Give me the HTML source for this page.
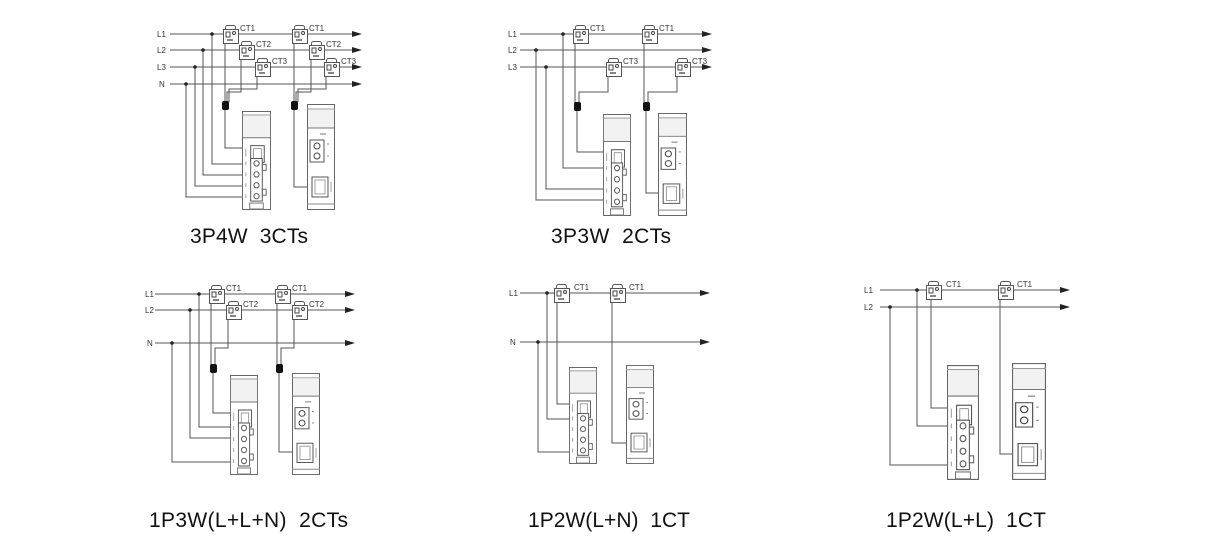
<!DOCTYPE html>
<html><head><meta charset="utf-8"><style>
html,body{margin:0;padding:0;background:#fff}
svg{display:block}
.w{fill:none;stroke:#555;stroke-width:1}
.ln{stroke:#555;stroke-width:1}
.t{font-family:"Liberation Sans",sans-serif;font-size:8px;fill:#333}
.big{font-family:"Liberation Sans",sans-serif;font-size:21px;fill:#111}
</style></head><body>
<svg width="1214" height="554" viewBox="0 0 1214 554" xmlns="http://www.w3.org/2000/svg">
<defs>
<symbol id="meter" viewBox="0 0 30 100" preserveAspectRatio="none">
<rect x="0.5" y="0.5" width="29" height="99" fill="#fff" stroke="#666"/>
<line x1="0" y1="4" x2="30" y2="4" stroke="#999"/>
<rect x="1" y="5" width="28" height="22" fill="#f2f2f2"/>
<line x1="0" y1="27" x2="30" y2="27" stroke="#777"/>
<rect x="9" y="35" width="14" height="17" fill="#fff" stroke="#555"/>
<rect x="12" y="38" width="8" height="11" fill="none" stroke="#777" stroke-width="0.7"/>
<line x1="4" y1="38" x2="4" y2="46" stroke="#888" stroke-width="0.8"/>
<rect x="9" y="48" width="12" height="43" fill="#fff" stroke="#555"/>
<rect x="21" y="54" width="4" height="6" fill="none" stroke="#666"/>
<rect x="21" y="79" width="4" height="6" fill="none" stroke="#666"/>
<circle cx="15" cy="53" r="2.7" fill="none" stroke="#555"/>
<circle cx="15" cy="64" r="2.7" fill="none" stroke="#555"/>
<circle cx="15" cy="75" r="2.7" fill="none" stroke="#555"/>
<circle cx="15" cy="86" r="2.7" fill="none" stroke="#555"/>
<g stroke="#888" stroke-width="0.8"><line x1="4" y1="51" x2="4" y2="55"/><line x1="4" y1="62" x2="4" y2="66"/><line x1="4" y1="73" x2="4" y2="77"/><line x1="4" y1="84" x2="4" y2="88"/></g>
<rect x="8" y="93" width="14" height="6" fill="none" stroke="#777"/>
</symbol>
<symbol id="ctm" viewBox="0 0 28 106" preserveAspectRatio="none">
<rect x="0.5" y="0.5" width="27" height="105" fill="#fff" stroke="#666"/>
<line x1="0" y1="5" x2="28" y2="5" stroke="#999"/>
<rect x="1" y="6" width="26" height="18" fill="#f2f2f2"/>
<line x1="0" y1="24" x2="28" y2="24" stroke="#777"/>
<line x1="13" y1="30" x2="19" y2="30" stroke="#777"/>
<rect x="3" y="36" width="14" height="22" fill="#fff" stroke="#555"/>
<circle cx="10" cy="42" r="3" fill="none" stroke="#444"/>
<circle cx="10" cy="52" r="3" fill="none" stroke="#444"/>
<line x1="20" y1="40" x2="22" y2="40" stroke="#888"/><line x1="20" y1="52" x2="22" y2="52" stroke="#888"/>
<rect x="5" y="73" width="16" height="20" fill="#fff" stroke="#555"/>
<rect x="8" y="76" width="10" height="14" fill="none" stroke="#777" stroke-width="0.7"/>
<line x1="24" y1="78" x2="24" y2="88" stroke="#888" stroke-width="0.8"/>
<line x1="0" y1="100" x2="28" y2="100" stroke="#888"/>
</symbol>
<symbol id="ct" viewBox="0 0 16 19" overflow="visible">
<rect x="2.5" y="0.5" width="10" height="5" rx="2" fill="#fff" stroke="#555"/>
<rect x="0.5" y="4.5" width="15" height="14" fill="#fff" stroke="#555"/>
<rect x="3" y="7" width="4" height="5" fill="none" stroke="#444"/>
<circle cx="11" cy="8" r="1.5" fill="none" stroke="#444"/>
<line x1="4" y1="15" x2="10" y2="15" stroke="#333" stroke-width="1.2"/>
</symbol>
<symbol id="ar" viewBox="0 0 10 8" overflow="visible"><path d="M0,1 L10,4 L0,7Z" fill="#222"/></symbol>
</defs>

<!-- Diagram 1 -->
<g class="ln">
<line x1="170" y1="34" x2="354" y2="34"/><line x1="170" y1="50" x2="354" y2="50"/><line x1="170" y1="67" x2="354" y2="67"/><line x1="170" y1="84" x2="354" y2="84"/>
</g>
<use href="#ar" x="352" y="30" width="10" height="8"/><use href="#ar" x="352" y="46" width="10" height="8"/><use href="#ar" x="352" y="63" width="10" height="8"/><use href="#ar" x="352" y="80" width="10" height="8"/>
<text class="t" x="157" y="37">L1</text><text class="t" x="157" y="53">L2</text><text class="t" x="157" y="70">L3</text><text class="t" x="159" y="87">N</text>
<path class="w" d="M212,34V164H242M203,50V175H242M195,67V186H242M186,84V197H242"/>
<g fill="#222"><circle cx="212" cy="34" r="1.8"/><circle cx="203" cy="50" r="1.8"/><circle cx="195" cy="67" r="1.8"/><circle cx="186" cy="84" r="1.8"/></g>
<path class="w" d="M225,44V102M241,60V92H227V102M257,77V89H229V102M225,110V148H242"/>
<rect x="222" y="101" width="7" height="9" rx="2" fill="#111"/>
<path class="w" d="M294,44V102M311,60V92H296V102M326,77V89H298V102M294,110V187H307"/>
<rect x="291" y="101" width="7" height="9" rx="2" fill="#111"/>
<use href="#ct" x="223" y="25" width="16" height="19"/><use href="#ct" x="239" y="41" width="16" height="19"/><use href="#ct" x="255" y="58" width="16" height="19"/>
<use href="#ct" x="292" y="25" width="16" height="19"/><use href="#ct" x="309" y="41" width="16" height="19"/><use href="#ct" x="324" y="58" width="16" height="19"/>
<text class="t" x="240" y="31">CT1</text><text class="t" x="256" y="47">CT2</text><text class="t" x="272" y="64">CT3</text>
<text class="t" x="309" y="31">CT1</text><text class="t" x="326" y="47">CT2</text><text class="t" x="341" y="64">CT3</text>
<use href="#meter" x="242" y="111" width="29" height="99"/>
<use href="#ctm" x="307" y="104" width="28" height="106"/>
<text class="big" x="190" y="243" textLength="118" xml:space="preserve">3P4W  3CTs</text>

<!-- Diagram 2 -->
<g class="ln"><line x1="520" y1="34" x2="704" y2="34"/><line x1="520" y1="50" x2="704" y2="50"/><line x1="520" y1="67" x2="704" y2="67"/></g>
<use href="#ar" x="702" y="30" width="10" height="8"/><use href="#ar" x="702" y="46" width="10" height="8"/><use href="#ar" x="702" y="63" width="10" height="8"/>
<text class="t" x="508" y="37">L1</text><text class="t" x="508" y="53">L2</text><text class="t" x="508" y="70">L3</text>
<path class="w" d="M563,34V168H603M546,67V189H603M536,50V200H603"/>
<g fill="#222"><circle cx="563" cy="34" r="1.8"/><circle cx="536" cy="50" r="1.8"/><circle cx="546" cy="67" r="1.8"/></g>
<path class="w" d="M575,44V103M608,77V92H579V103M577,111V152H603"/>
<rect x="574" y="102" width="7" height="9" rx="2" fill="#111"/>
<path class="w" d="M644,44V103M677,77V92H648V103M646,111V193H658"/>
<rect x="643" y="102" width="7" height="9" rx="2" fill="#111"/>
<use href="#ct" x="573" y="25" width="16" height="19"/><use href="#ct" x="606" y="58" width="16" height="19"/>
<use href="#ct" x="642" y="25" width="16" height="19"/><use href="#ct" x="675" y="58" width="16" height="19"/>
<text class="t" x="590" y="31">CT1</text><text class="t" x="623" y="64">CT3</text><text class="t" x="659" y="31">CT1</text><text class="t" x="692" y="64">CT3</text>
<use href="#meter" x="603" y="114" width="28" height="102"/>
<use href="#ctm" x="658" y="113" width="29" height="103"/>
<text class="big" x="551" y="243" textLength="120" xml:space="preserve">3P3W  2CTs</text>

<!-- Diagram 3 -->
<g class="ln"><line x1="155" y1="294" x2="347" y2="294"/><line x1="155" y1="310" x2="347" y2="310"/><line x1="155" y1="343" x2="347" y2="343"/></g>
<use href="#ar" x="345" y="290" width="10" height="8"/><use href="#ar" x="345" y="306" width="10" height="8"/><use href="#ar" x="345" y="339" width="10" height="8"/>
<text class="t" x="145" y="297">L1</text><text class="t" x="145" y="313">L2</text><text class="t" x="147" y="346">N</text>
<path class="w" d="M199,294V427H230M190,310V438H230M172,343V462H230"/>
<g fill="#222"><circle cx="199" cy="294" r="1.8"/><circle cx="190" cy="310" r="1.8"/><circle cx="172" cy="343" r="1.8"/></g>
<path class="w" d="M211,304V365M228,320V348H215V365M213,372V413H230"/>
<rect x="210" y="364" width="7" height="9" rx="2" fill="#111"/>
<path class="w" d="M277,304V365M294,320V348H281V365M279,372V452H292"/>
<rect x="276" y="364" width="7" height="9" rx="2" fill="#111"/>
<use href="#ct" x="209" y="285" width="16" height="19"/><use href="#ct" x="226" y="301" width="16" height="19"/>
<use href="#ct" x="275" y="285" width="16" height="19"/><use href="#ct" x="292" y="301" width="16" height="19"/>
<text class="t" x="226" y="291">CT1</text><text class="t" x="243" y="307">CT2</text><text class="t" x="292" y="291">CT1</text><text class="t" x="309" y="307">CT2</text>
<use href="#meter" x="230" y="375" width="28" height="100"/>
<use href="#ctm" x="292" y="373" width="28" height="102"/>
<text class="big" x="149" y="527" textLength="199" xml:space="preserve">1P3W(L+L+N)  2CTs</text>

<!-- Diagram 4 -->
<g class="ln"><line x1="520" y1="293" x2="702" y2="293"/><line x1="520" y1="342" x2="702" y2="342"/></g>
<use href="#ar" x="700" y="289" width="10" height="8"/><use href="#ar" x="700" y="338" width="10" height="8"/>
<text class="t" x="509" y="296">L1</text><text class="t" x="510" y="345">N</text>
<path class="w" d="M547,293V419H569M538,342V452H569M557,303V404H569"/>
<g fill="#222"><circle cx="547" cy="293" r="1.8"/><circle cx="538" cy="342" r="1.8"/></g>
<path class="w" d="M612,303V443H626"/>
<use href="#ct" x="554" y="284" width="16" height="19"/><use href="#ct" x="610" y="284" width="16" height="19"/>
<text class="t" x="574" y="290">CT1</text><text class="t" x="629" y="290">CT1</text>
<use href="#meter" x="569" y="367" width="28" height="97"/>
<use href="#ctm" x="626" y="365" width="28" height="99"/>
<text class="big" x="528" y="527" textLength="162" xml:space="preserve">1P2W(L+N)  1CT</text>

<!-- Diagram 5 -->
<g class="ln"><line x1="880" y1="290" x2="1062" y2="290"/><line x1="880" y1="307" x2="1062" y2="307"/></g>
<use href="#ar" x="1060" y="286" width="10" height="8"/><use href="#ar" x="1060" y="303" width="10" height="8"/>
<text class="t" x="864" y="293">L1</text><text class="t" x="864" y="310">L2</text>
<path class="w" d="M917,290V426H947M890,307V465H947M931,300V408H947"/>
<g fill="#222"><circle cx="917" cy="290" r="1.8"/><circle cx="890" cy="307" r="1.8"/></g>
<path class="w" d="M1000,300V454H1012"/>
<use href="#ct" x="926" y="281" width="16" height="19"/><use href="#ct" x="998" y="281" width="16" height="19"/>
<text class="t" x="946" y="287">CT1</text><text class="t" x="1017" y="287">CT1</text>
<use href="#meter" x="947" y="365" width="32" height="115"/>
<use href="#ctm" x="1012" y="363" width="34" height="117"/>
<text class="big" x="886" y="527" textLength="160" xml:space="preserve">1P2W(L+L)  1CT</text>
</svg>
</body></html>
